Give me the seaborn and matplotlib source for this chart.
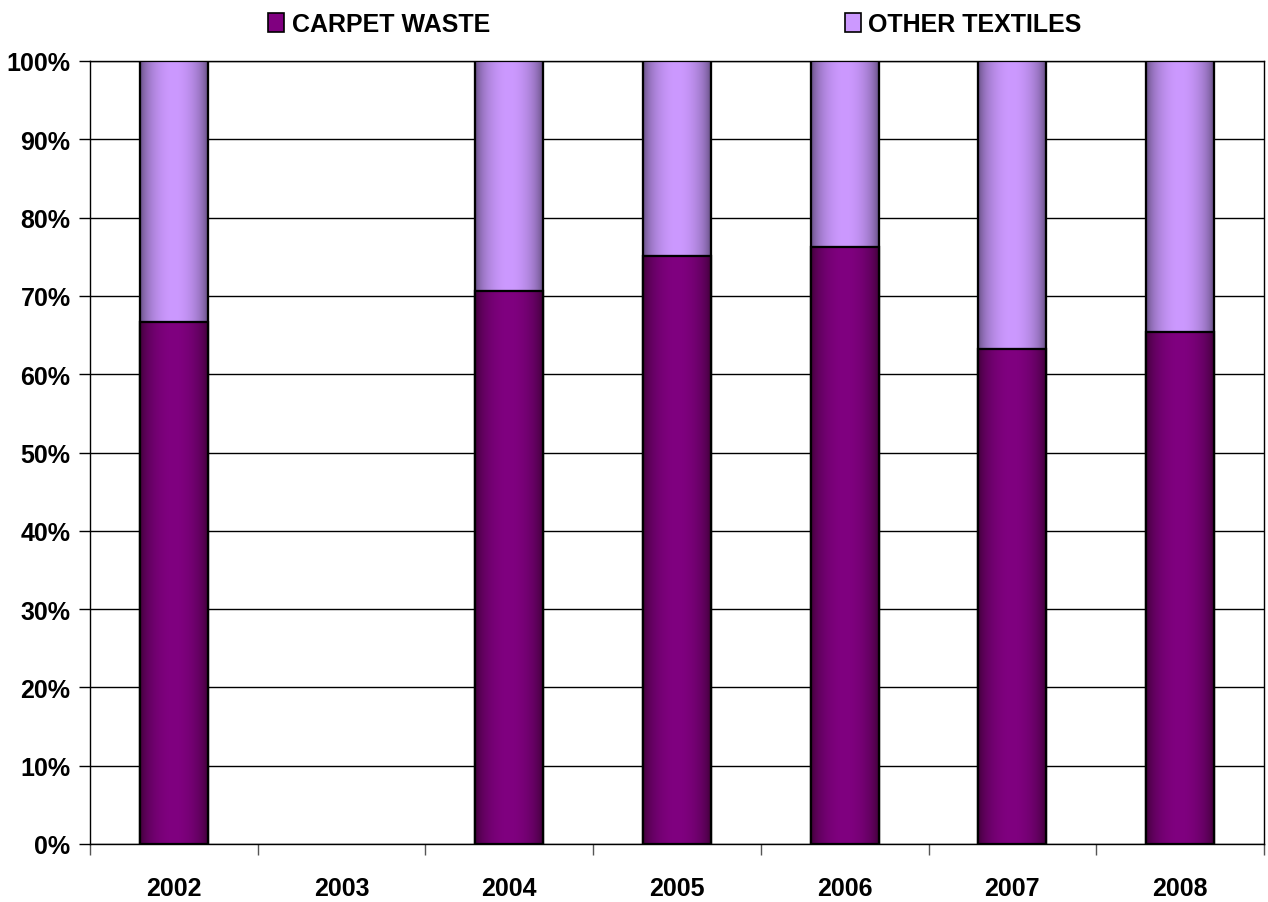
import numpy as np
import pandas as pd
import matplotlib
matplotlib.use("Agg")
import matplotlib.pyplot as plt
import seaborn as sns
from matplotlib.patches import Patch
from matplotlib.colors import to_rgb

years = ["2002", "2003", "2004", "2005", "2006", "2007", "2008"]
carpet_waste = [66.7, np.nan, 70.6, 75.1, 76.2, 63.2, 65.4]
other_textiles = [33.3, np.nan, 29.4, 24.9, 23.8, 36.8, 34.6]
y_ticks = [0, 10, 20, 30, 40, 50, 60, 70, 80, 90, 100]

carpet_center, carpet_edge = "#800080", "#34002c"
other_center, other_edge = "#cc99ff", "#52426c"

sns.set_theme(style="white")
plt.rcParams['font.family'] = ['Liberation Sans', 'DejaVu Sans']
plt.rcParams['font.weight'] = 'bold'
plt.rcParams['text.color'] = 'black'
plt.rcParams['xtick.color'] = 'black'
plt.rcParams['ytick.color'] = 'black'
plt.rcParams['axes.labelcolor'] = 'black'

FS = 18

df = pd.DataFrame({"year": years, "carpet": carpet_waste, "other": other_textiles})
df["total"] = df["carpet"] + df["other"]

fig = plt.figure(figsize=(12.68, 9.03), dpi=100)
ax = fig.add_axes([90/1268, 58/903, (1264-90)/1268, (845-62)/903])

W = 0.405
sns.barplot(data=df, x="year", y="total", order=years, color=other_center,
            width=W, edgecolor="black", linewidth=1.5, ax=ax, zorder=3)
n_other = len(ax.patches)
sns.barplot(data=df, x="year", y="carpet", order=years, color=carpet_center,
            width=W, edgecolor="black", linewidth=1.5, ax=ax, zorder=4)

def gradient_cmap(edge, center, n=256):
    t = np.linspace(0, 1, n)
    f = np.sin(np.pi * t) ** 0.5
    e = np.array(to_rgb(edge)); c = np.array(to_rgb(center))
    return (e[None, :] + (c - e)[None, :] * f[:, None])[None, :, :]

grad_other = gradient_cmap(other_edge, other_center)
grad_carpet = gradient_cmap(carpet_edge, carpet_center)

for i, p in enumerate(ax.patches):
    h = p.get_height()
    if not np.isfinite(h) or h == 0:
        continue
    x0 = p.get_x(); w = p.get_width(); y0 = p.get_y()
    grad = grad_other if i < n_other else grad_carpet
    z = p.get_zorder()
    im = ax.imshow(grad, extent=[x0, x0 + w, y0, y0 + h], aspect="auto",
                   zorder=z + 0.1, interpolation="bilinear")
    im.set_clip_path(p)
    ax.add_patch(plt.Rectangle((x0, y0), w, h, fill=False, edgecolor="black",
                               linewidth=1.6, zorder=z + 0.2))

ax.set_xlim(-0.5, len(years) - 0.5)
ax.set_ylim(0, 100)
ax.set_yticks(y_ticks)
ax.set_yticklabels([f"{v}%" for v in y_ticks], fontsize=FS, fontweight="bold")
ax.set_xticks(range(len(years)))
ax.set_xticklabels(years, fontsize=FS, fontweight="bold")
ax.set_xticks(np.arange(-0.5, len(years), 1.0), minor=True)
ax.tick_params(axis="x", which="major", length=0, pad=23)
ax.tick_params(axis="x", which="minor", length=8, width=1, color="#555555", direction="out", bottom=True)
ax.tick_params(axis="y", which="major", length=8, width=1, color="black", direction="out", left=True, pad=6)
ax.set_xlabel(""); ax.set_ylabel("")

ax.yaxis.grid(True, color="black", linewidth=1)
ax.set_axisbelow(True)
for s in ax.spines.values():
    s.set_visible(True)
    s.set_color("black")
    s.set_linewidth(1)

labels = ["CARPET WASTE", "OTHER TEXTILES"]
colors = [carpet_center, other_center]
xpos = [268, 845]
for lab, col, xp in zip(labels, colors, xpos):
    fig.legend([Patch(facecolor=col, edgecolor="black", linewidth=1.2)], [lab],
               loc="center left", bbox_to_anchor=(xp/1268, 1 - 25/903),
               frameon=False, prop={"size": FS, "weight": "bold"},
               handlelength=0.64, handleheight=0.76, handletextpad=0.3,
               borderaxespad=0, borderpad=0)

fig.savefig("out.png", dpi=100)
